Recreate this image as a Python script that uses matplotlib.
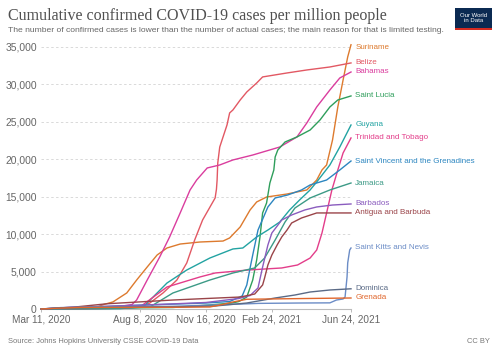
import numpy as np
import matplotlib
matplotlib.use("Agg")
import matplotlib.pyplot as plt
import matplotlib.dates as mdates
from matplotlib.patches import Rectangle

plt.rcParams['font.family'] = ['Liberation Sans', 'DejaVu Sans']

START = np.datetime64('2020-03-11')
END = np.datetime64('2021-06-24')

# x data: days since 11 Mar 2020; y data: confirmed cases per million
suriname_day = [0, 40, 70, 85, 95, 109, 130, 145, 161, 176, 191, 211, 241, 276, 286, 302, 317, 327, 342, 373, 403, 418, 426, 433, 442, 450, 458, 465, 470]
suriname_val = [0, 15, 60, 250, 600, 940, 2140, 3870, 5610, 7210, 8150, 8680, 8950, 9080, 9490, 10960, 13230, 14300, 14960, 15360, 15900, 17230, 18570, 19240, 22580, 26990, 30590, 33670, 35300]

belize_day = [0, 60, 120, 150, 165, 185, 206, 221, 233, 245, 264, 266, 267, 268, 271, 276, 282, 286, 291, 302, 312, 327, 336, 373, 403, 438, 470]
belize_val = [0, 40, 90, 270, 800, 2140, 3870, 6150, 9220, 11890, 14830, 16000, 17230, 19510, 21640, 22980, 24580, 26190, 26590, 27920, 28990, 30190, 31000, 31530, 31930, 32330, 32870]

bahamas_day = [0, 40, 90, 120, 138, 145, 161, 180, 195, 211, 226, 236, 252, 271, 291, 321, 362, 388, 403, 418, 438, 453, 470]
bahamas_val = [0, 130, 260, 350, 600, 1200, 3870, 6950, 9620, 12830, 15900, 17230, 18840, 19240, 19910, 20570, 21640, 22980, 24850, 26990, 29260, 30860, 31660]

saint_lucia_day = [0, 30, 100, 200, 250, 290, 300, 312, 321, 327, 332, 336, 342, 347, 353, 355, 359, 370, 388, 408, 423, 438, 450, 470]
saint_lucia_val = [0, 80, 120, 200, 500, 800, 1000, 1600, 3870, 6550, 9620, 12830, 14160, 16830, 18570, 20310, 21240, 22310, 22980, 23910, 25250, 26990, 27920, 28460]

guyana_day = [0, 60, 120, 155, 191, 221, 256, 291, 306, 327, 344, 362, 377, 392, 408, 418, 438, 453, 470]
guyana_val = [0, 20, 50, 270, 3470, 5210, 6810, 8020, 8150, 9620, 10550, 11620, 13230, 14560, 15900, 16970, 19240, 21640, 24580]

trinidad_day = [0, 60, 120, 150, 191, 241, 264, 314, 365, 389, 408, 418, 426, 433, 441, 450, 458, 470]
trinidad_val = [0, 50, 100, 270, 2940, 4280, 4810, 5210, 5480, 5880, 6810, 7880, 10150, 12830, 15900, 18570, 20840, 22850]

svg_day = [0, 60, 150, 200, 250, 286, 305, 312, 317, 321, 329, 344, 355, 374, 395, 408, 433, 453, 470]
svg_val = [0, 150, 520, 650, 800, 1000, 1740, 3210, 5480, 7210, 10550, 13630, 14830, 15230, 15900, 16570, 17230, 18570, 19770]

jamaica_day = [0, 60, 120, 165, 200, 226, 256, 291, 324, 339, 355, 370, 385, 408, 438, 470]
jamaica_val = [0, 30, 100, 270, 2140, 2940, 3870, 4810, 5480, 6810, 9220, 11620, 13490, 14830, 15900, 16830]

barbados_day = [0, 50, 150, 250, 300, 317, 329, 336, 344, 350, 365, 380, 400, 418, 442, 470]
barbados_val = [0, 260, 500, 870, 1400, 1800, 2810, 5610, 8550, 10150, 11890, 12560, 13230, 13630, 13890, 14030]

antigua_day = [0, 50, 100, 150, 200, 250, 302, 324, 329, 336, 339, 344, 350, 358, 365, 373, 380, 395, 418, 470]
antigua_val = [0, 250, 700, 950, 1200, 1400, 1600, 2000, 2500, 3210, 4140, 5880, 7210, 8550, 9620, 10550, 11490, 12160, 12830, 12830]

skn_day = [0, 30, 80, 200, 290, 330, 392, 438, 448, 458, 461, 464, 465, 468, 470]
skn_val = [0, 190, 280, 360, 620, 750, 800, 820, 1200, 1340, 1600, 4280, 6150, 7880, 8150]

dominica_day = [0, 30, 100, 200, 264, 312, 355, 385, 408, 438, 470]
dominica_val = [0, 150, 220, 280, 400, 800, 1470, 1870, 2270, 2540, 2700]

grenada_day = [0, 30, 60, 200, 256, 275, 291, 312, 400, 470]
grenada_val = [0, 120, 200, 230, 270, 600, 940, 1300, 1400, 1470]

countries = ["Suriname", "Belize", "Bahamas", "Saint Lucia", "Guyana", "Trinidad and Tobago",
             "Saint Vincent and the Grenadines", "Jamaica", "Barbados", "Antigua and Barbuda",
             "Saint Kitts and Nevis", "Dominica", "Grenada"]
series_days = [suriname_day, belize_day, bahamas_day, saint_lucia_day, guyana_day, trinidad_day,
               svg_day, jamaica_day, barbados_day, antigua_day, skn_day, dominica_day, grenada_day]
series_vals = [suriname_val, belize_val, bahamas_val, saint_lucia_val, guyana_val, trinidad_val,
               svg_val, jamaica_val, barbados_val, antigua_val, skn_val, dominica_val, grenada_val]
colors = ["#DD7A2E", "#E25863", "#DA3D9E", "#2E9E5B", "#22A3A2", "#E33D8A",
          "#2C86C0", "#3C9A86", "#8A5CBE", "#9A4449", "#6B8CC6", "#5A6A86", "#E0662C"]

yticks = [0, 5000, 10000, 15000, 20000, 25000, 30000, 35000]
xtick_dates = ["2020-03-11", "2020-08-08", "2020-11-16", "2021-02-24", "2021-06-24"]
xtick_labels = ["Mar 11, 2020", "Aug 8, 2020", "Nov 16, 2020", "Feb 24, 2021", "Jun 24, 2021"]

W, H = 500, 353
fig = plt.figure(figsize=(W / 100, H / 100), dpi=100)
ax = fig.add_axes([41 / W, (H - 309) / H, 310 / W, 266.5 / H])
ax.set_ylim(0, 35600)
ax.set_xlim(mdates.date2num(START), mdates.date2num(END))

for d, v, c in zip(series_days, series_vals, colors):
    dates = START + np.array(d).astype('timedelta64[D]')
    ax.plot(mdates.date2num(dates), v, color=c, lw=1.0, solid_joinstyle='round', clip_on=False, zorder=3)

# grid
for yt in yticks[1:]:
    ax.axhline(yt, color="#d9d9d9", lw=0.7, ls=(0, (2.5, 2.5)), zorder=1)
for s in ["top", "right", "left"]:
    ax.spines[s].set_visible(False)
ax.spines["bottom"].set_color("#bbbbbb")
ax.spines["bottom"].set_linewidth(0.8)

ax.set_yticks(yticks)
ax.set_yticklabels([f"{t:,}" for t in yticks])
ax.tick_params(axis='y', length=0, pad=3, labelsize=7.4, labelcolor="#666666")
ax.set_xticks([mdates.date2num(np.datetime64(d)) for d in xtick_dates])
ax.set_xticklabels(xtick_labels, va='baseline')
ax.tick_params(axis='x', length=2.5, width=0.7, color="#bbbbbb", pad=7.3, labelsize=7.2, labelcolor="#666666")

# end labels
endx = mdates.date2num(END)
ends = [v[-1] for v in series_vals]
label_y = list(ends)
label_y[0] = min(label_y[0], 34900)
for name, y, c in zip(countries, label_y, colors):
    ax.annotate(name, xy=(endx, y), xytext=(3, 0), textcoords='offset points',
                ha='left', va='center', fontsize=5.8, color=c, annotation_clip=False)

# titles
fig.text(8 / W, 1 - 20 / H, "Cumulative confirmed COVID-19 cases per million people",
         family=['Liberation Serif', 'DejaVu Serif'], fontsize=11.5, color="#505050", va='baseline')
fig.text(8 / W, 1 - 32.5 / H,
         "The number of confirmed cases is lower than the number of actual cases; the main reason for that is limited testing.",
         fontsize=6.1, color="#666666", va='baseline')
fig.text(8 / W, 1 - 343 / H, "Source: Johns Hopkins University CSSE COVID-19 Data",
         fontsize=5.4, color="#777777", va='baseline')
fig.text(490 / W, 1 - 343 / H, "CC BY", fontsize=5.4, color="#777777", va='baseline', ha='right')

# logo
fig.patches.append(Rectangle((455 / W, 1 - 29 / H), 37 / W, 21 / H, transform=fig.transFigure,
                             facecolor="#0b2a52", edgecolor='none'))
fig.patches.append(Rectangle((455 / W, 1 - 29.5 / H), 37 / W, 1.6 / H, transform=fig.transFigure,
                             facecolor="#d42b21", edgecolor='none'))
fig.text(473.5 / W, 1 - 18 / H, "Our World\nin Data", fontsize=4.3, color="white",
         ha='center', va='center', linespacing=1.0)

fig.savefig("out.png", dpi=100)
